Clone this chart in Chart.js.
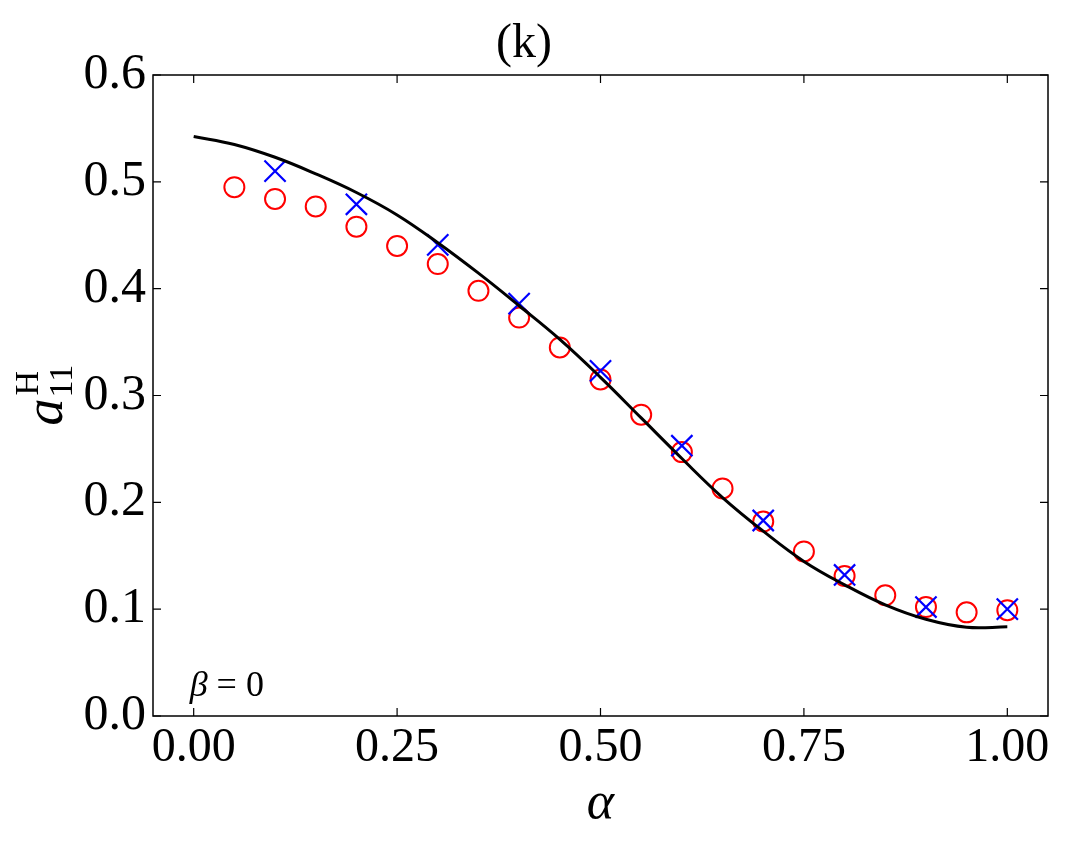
<!DOCTYPE html>
<html>
<head>
<meta charset="utf-8">
<script src="https://cdn.jsdelivr.net/npm/chart.js@4/dist/chart.umd.min.js"></script>
<style>
html,body{margin:0;padding:0;background:#fff;}
#wrap{width:1068px;height:843px;}
</style>
</head>
<body>
<div id="wrap"><canvas id="c" width="1068" height="843"></canvas></div>
<script>
// ---- data ----
const circleX = [0.05,0.10,0.15,0.20,0.25,0.30,0.35,0.40,0.45,0.50,0.55,0.60,0.65,0.70,0.75,0.80,0.85,0.90,0.95,1.00];
const circleY = [0.495,0.484,0.477,0.458,0.440,0.423,0.398,0.373,0.345,0.315,0.282,0.247,0.213,0.182,0.154,0.131,0.113,0.102,0.097,0.099];
const crossX = [0.1,0.2,0.3,0.4,0.5,0.6,0.7,0.8,0.9,1.0];
const crossY = [0.510,0.479,0.441,0.386,0.323,0.253,0.183,0.132,0.102,0.100];
const curveX = [0.00,0.05,0.10,0.15,0.20,0.25,0.30,0.35,0.40,0.45,0.50,0.55,0.60,0.65,0.70,0.75,0.80,0.85,0.90,0.95,1.00];
const curveY = [0.5425,0.5350,0.5230,0.5075,0.4900,0.4690,0.4430,0.4145,0.3840,0.3525,0.3170,0.2790,0.2410,0.2045,0.1730,0.1447,0.1228,0.1040,0.0905,0.0830,0.0835];
const xTicks = [0.00,0.25,0.50,0.75,1.00];
const yTicks = [0.0,0.1,0.2,0.3,0.4,0.5,0.6];
const titleText = "(k)";
const xLabel = "α";
const annotation = {sym:"β", rest:" = 0"};

const pts = (xs, ys) => xs.map((x,i)=>({x:x, y:ys[i]}));
const SERIF = "'Liberation Serif','DejaVu Serif',serif";

const framePlugin = {
  id:'frame',
  afterDatasetsDraw(chart){
    const {ctx, chartArea:a, scales:{x,y}} = chart;
    ctx.save();
    ctx.strokeStyle = '#000';
    ctx.lineWidth = 1.5;
    ctx.strokeRect(a.left, a.top, a.right-a.left, a.bottom-a.top);
    const L = 8;
    ctx.lineWidth = 1.2;
    ctx.beginPath();
    x.ticks.forEach(t=>{
      const px = x.getPixelForValue(t.value);
      ctx.moveTo(px,a.bottom); ctx.lineTo(px,a.bottom-L);
      ctx.moveTo(px,a.top); ctx.lineTo(px,a.top+L);
    });
    y.ticks.forEach(t=>{
      const py = y.getPixelForValue(t.value);
      ctx.moveTo(a.left,py); ctx.lineTo(a.left+L,py);
      ctx.moveTo(a.right,py); ctx.lineTo(a.right-L,py);
    });
    ctx.stroke();
    ctx.restore();
  },
  afterDraw(chart){
    const {ctx, chartArea:a, scales:{x,y}} = chart;
    ctx.save();
    ctx.fillStyle = '#000';
    // x-axis label
    ctx.font = "italic 52px " + SERIF;
    ctx.textAlign = 'center';
    ctx.textBaseline = 'alphabetic';
    ctx.fillText(xLabel, (a.left+a.right)/2, 818);
    // annotation beta = 0
    ctx.textAlign = 'left';
    ctx.font = "italic 36px " + SERIF;
    const bx = x.getPixelForValue(0.0) - 4, by = 696;
    ctx.fillText(annotation.sym, bx, by);
    const bw = ctx.measureText(annotation.sym).width;
    ctx.font = "36px " + SERIF;
    ctx.fillText(annotation.rest, bx + bw, by);
    // y-axis label a^H_11 (rotated)
    ctx.translate(62, (a.top+a.bottom)/2 + 30);
    ctx.rotate(-Math.PI/2);
    ctx.font = "italic 54px " + SERIF;
    ctx.fillText("a", 0, 0);
    const aw = ctx.measureText("a").width;
    ctx.font = "34px " + SERIF;
    ctx.fillText("11", aw + 1, 10);
    ctx.fillText("H", aw + 3, -24);
    ctx.restore();
  }
};

new Chart(document.getElementById('c'), {
  type:'scatter',
  data:{
    datasets:[
      {label:'curve', data:pts(curveX,curveY), showLine:true, borderColor:'#000', borderWidth:3,
       pointRadius:0, tension:0.4, fill:false, order:0},
      {label:'cross', data:pts(crossX,crossY), pointStyle:'crossRot', pointRadius:15,
       borderColor:'#0000ff', backgroundColor:'#0000ff', pointBorderWidth:2.2, showLine:false, order:1},
      {label:'circle', data:pts(circleX,circleY), pointStyle:'circle', pointRadius:10,
       borderColor:'#ff0000', backgroundColor:'rgba(0,0,0,0)', pointBorderWidth:2, showLine:false, order:2}
    ]
  },
  options:{
    responsive:false,
    animation:false,
    devicePixelRatio:1,
    layout:{padding:{left:0,right:20,top:0,bottom:0}},
    plugins:{
      legend:{display:false},
      tooltip:{enabled:false},
      title:{display:true, text:titleText, color:'#000',
             font:{family:SERIF, size:48, weight:'normal'}, padding:{top:16,bottom:1.4}}
    },
    scales:{
      x:{type:'linear', min:-0.05, max:1.05,
         afterBuildTicks(s){ s.ticks = xTicks.map(v=>({value:v})); },
         afterFit(s){ s.height = 127; },
         grid:{display:false, drawTicks:false}, border:{display:false},
         ticks:{color:'#000', font:{family:SERIF,size:48}, padding:4, maxRotation:0,
                callback:v=>Number(v).toFixed(2)}},
      y:{type:'linear', min:0, max:0.6,
         afterBuildTicks(s){ s.ticks = yTicks.map(v=>({value:v})); },
         afterFit(s){ s.width = 153; },
         grid:{display:false, drawTicks:false}, border:{display:false},
         ticks:{color:'#000', font:{family:SERIF,size:50}, padding:7,
                callback:v=>Number(v).toFixed(1)}}
    }
  },
  plugins:[framePlugin]
});
</script>
</body>
</html>
